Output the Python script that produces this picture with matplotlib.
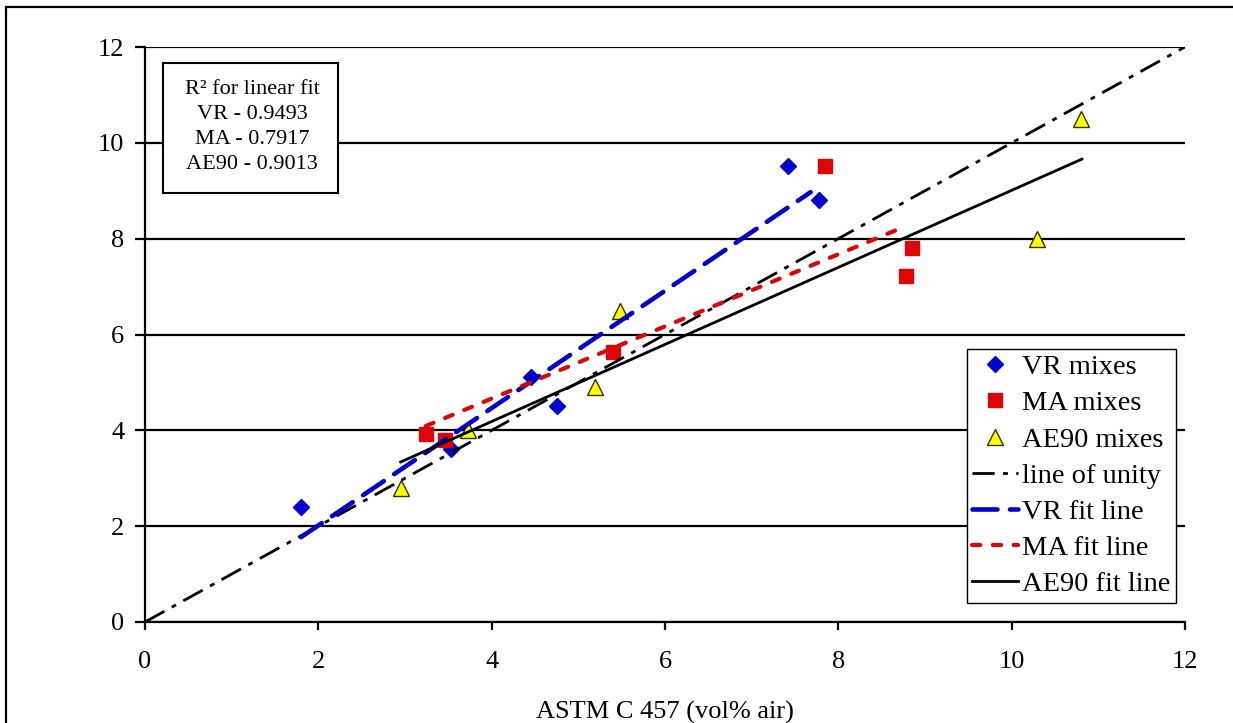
import matplotlib
matplotlib.use("Agg")
import matplotlib.pyplot as plt
from matplotlib.patches import Rectangle

plt.rcParams['font.family'] = ['Liberation Serif', 'DejaVu Serif']
plt.rcParams['lines.scale_dashes'] = False

# ---- data ----
vr_x = [1.80, 3.53, 4.45, 4.75, 7.42, 7.78]
vr_y = [2.40, 3.61, 5.11, 4.51, 9.52, 8.81]
ma_x = [3.24, 3.46, 5.40, 7.85, 8.85, 8.78]
ma_y = [3.92, 3.80, 5.63, 9.52, 7.80, 7.22]
ae_x = [2.95, 3.73, 5.19, 5.48, 10.29, 10.80]
ae_y = [2.80, 4.00, 4.90, 6.50, 8.00, 10.50]

unity_x = [0, 12]
unity_y = [0, 12]
vr_fit_x = [1.80, 7.68]
vr_fit_y = [1.77, 8.97]
ma_fit_x = [3.24, 8.75]
ma_fit_y = [4.09, 8.24]
ae_fit_x = [2.95, 10.81]
ae_fit_y = [3.34, 9.66]

xticks = [0, 2, 4, 6, 8, 10, 12]
yticks = [0, 2, 4, 6, 8, 10, 12]
r2_text = "R\u00b2 for linear fit\nVR - 0.9493\nMA - 0.7917\nAE90 - 0.9013"

BLUE = '#0000CC'
RED = '#DD0606'
YEL = '#FFFF00'

W, H = 1233, 723
fig = plt.figure(figsize=(W / 100, H / 100), dpi=100)
ax = fig.add_axes([145 / W, 1 - 622 / H, (1185 - 145) / W, (622 - 47) / H])

# markers
ax.plot(vr_x, vr_y, ls='none', marker='D', ms=8.5, mfc=BLUE, mec=BLUE,
        label='VR mixes', zorder=3)
ax.plot(ma_x, ma_y, ls='none', marker='s', ms=9.5, mfc=RED, mec=RED,
        label='MA mixes', zorder=3)
ax.plot(ae_x, ae_y, ls='none', marker='^', ms=11.5, mfc=YEL, mec='#333300',
        mew=1.0, label='AE90 mixes', zorder=3)

# lines
ax.plot(unity_x, unity_y, color='black', lw=2.0, dashes=[16, 6, 3.5, 6],
        label='line of unity', zorder=4)
ax.plot(vr_fit_x, vr_fit_y, color=BLUE, lw=3.3, dashes=[18, 9],
        dash_capstyle='round', label='VR fit line', zorder=4)
ax.plot(ma_fit_x, ma_fit_y, color=RED, lw=3.0, dashes=[6, 9],
        dash_capstyle='round', label='MA fit line', zorder=4)
ax.plot(ae_fit_x, ae_fit_y, color='black', lw=2.0, ls='-',
        label='AE90 fit line', zorder=4)

ax.set_xlim(0, 12)
ax.set_ylim(0, 12)
ax.set_xticks(xticks)
ax.set_yticks(yticks)
ax.set_xticklabels([str(t) for t in xticks])
ax.set_yticklabels([str(t) for t in yticks])
ax.yaxis.grid(True, color='black', lw=1.6)
ax.set_axisbelow(True)
for s in ['top', 'right']:
    ax.spines[s].set_visible(False)
for s in ['left', 'bottom']:
    ax.spines[s].set_linewidth(1.6)
    ax.spines[s].set_zorder(5)
ax.tick_params(axis='both', direction='out', width=1.6, labelsize=19,
               colors='black')
ax.tick_params(axis='y', length=7, pad=8)
ax.tick_params(axis='x', length=6, pad=15)
ax.set_xlabel('ASTM C 457 (vol% air)', fontsize=19, labelpad=20)

leg = ax.legend(loc='lower right', bbox_to_anchor=(0.9913, 0.033),
                borderaxespad=0, fontsize=20.5, frameon=True, fancybox=False,
                edgecolor='black', framealpha=1, handlelength=1.6,
                handletextpad=0.14, labelspacing=0.36, borderpad=0.2,
                numpoints=1)
leg.get_frame().set_linewidth(1.0)
leg.set_zorder(6)

# R^2 text box
fig.patches.append(Rectangle((163 / W, 1 - 193 / H), (338 - 163) / W,
                             (193 - 63) / H, transform=fig.transFigure,
                             fill=True, facecolor='white', edgecolor='black',
                             lw=1.5, zorder=5))
fig.text(252 / W, 1 - 127 / H, r2_text, ha='center', va='center',
         fontsize=16, linespacing=1.42, zorder=6)

# outer frame
fig.patches.append(Rectangle((6 / W, -0.2), 1.5, 1.2 - 7 / H,
                             transform=fig.transFigure, fill=False,
                             edgecolor='black', lw=1.6, zorder=1))

fig.savefig('out.png', dpi=100)
